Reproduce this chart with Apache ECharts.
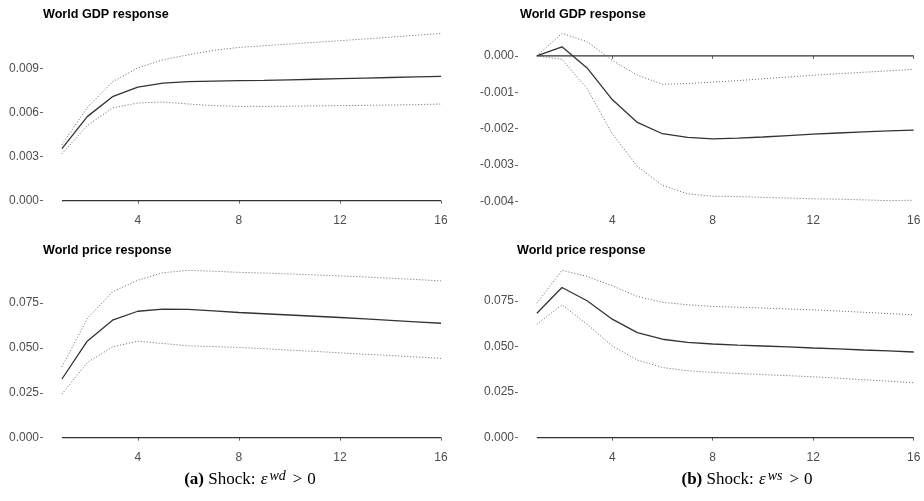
<!DOCTYPE html>
<html>
<head>
<meta charset="utf-8">
<script src="https://cdn.jsdelivr.net/npm/echarts@6/dist/echarts.min.js"></script>
<style>
    html, body { margin: 0; padding: 0; background: #fff; }
    #irf { width: 924px; height: 501px; }
</style>
</head>
<body>
<div id="irf"></div>
<script>
// 冲击后的期数
const horizon = [1, 2, 3, 4, 5, 6, 7, 8, 9, 10, 11, 12, 13, 14, 15, 16];

// (a) 需求冲击 -> 世界GDP
const gdpWdMid = [0.00355, 0.00573, 0.00709, 0.00775, 0.00802, 0.00812, 0.00815, 0.00818, 0.0082, 0.00824, 0.00828, 0.00832, 0.00836, 0.0084, 0.00844, 0.00848];
const gdpWdHigh = [0.00382, 0.00634, 0.00811, 0.00905, 0.00961, 0.00995, 0.01025, 0.01045, 0.01057, 0.01068, 0.0108, 0.01091, 0.01103, 0.01115, 0.01128, 0.01141];
const gdpWdLow = [0.0032, 0.00511, 0.00632, 0.00666, 0.00673, 0.00659, 0.00648, 0.00643, 0.00643, 0.00644, 0.00646, 0.00648, 0.0065, 0.00652, 0.00655, 0.00659];

// (b) 供给冲击 -> 世界GDP
const gdpWsMid = [0, 0.00025, -0.00033, -0.0012, -0.00183, -0.00214, -0.00224, -0.00228, -0.00226, -0.00223, -0.00219, -0.00215, -0.00212, -0.00209, -0.00206, -0.00204];
const gdpWsHigh = [0, 0.00062, 0.00039, -0.00012, -0.00053, -0.00078, -0.00076, -0.00072, -0.00068, -0.00063, -0.00058, -0.00053, -0.00049, -0.00045, -0.00041, -0.00037];
const gdpWsLow = [0, -0.00009, -0.0009, -0.00214, -0.00304, -0.00356, -0.00379, -0.00386, -0.00387, -0.00389, -0.00391, -0.00393, -0.00394, -0.00396, -0.00398, -0.00397];

// (a) 需求冲击 -> 世界价格
const priceWdMid = [0.0327, 0.0538, 0.0655, 0.0705, 0.0717, 0.0715, 0.0707, 0.0698, 0.0691, 0.0684, 0.0677, 0.067, 0.0662, 0.0654, 0.0646, 0.0638];
const priceWdHigh = [0.0395, 0.0664, 0.0813, 0.0878, 0.092, 0.0933, 0.0928, 0.0922, 0.0918, 0.0913, 0.0908, 0.0902, 0.0896, 0.0889, 0.0882, 0.0874];
const priceWdLow = [0.0243, 0.0419, 0.0506, 0.0538, 0.0525, 0.0512, 0.0508, 0.0503, 0.0496, 0.0488, 0.0481, 0.0473, 0.0465, 0.0458, 0.045, 0.0442];

// (b) 供给冲击 -> 世界价格
const priceWsMid = [0.0683, 0.0824, 0.0751, 0.065, 0.0576, 0.054, 0.0523, 0.0514, 0.0508, 0.0503, 0.0498, 0.0492, 0.0487, 0.0481, 0.0476, 0.047];
const priceWsHigh = [0.0738, 0.0918, 0.0885, 0.0833, 0.0775, 0.0743, 0.0729, 0.072, 0.0716, 0.0711, 0.0706, 0.0701, 0.0695, 0.0688, 0.0681, 0.0674];
const priceWsLow = [0.0622, 0.0729, 0.0622, 0.0503, 0.0426, 0.0385, 0.0367, 0.0358, 0.0352, 0.0346, 0.034, 0.0334, 0.0326, 0.0318, 0.031, 0.0301];

// 刻度
const xTicks = [4, 8, 12, 16];
const gdpWdTicks = [0, 0.003, 0.006, 0.009];
const gdpWsTicks = [-0.004, -0.003, -0.002, -0.001, 0];
const priceTicks = [0, 0.025, 0.05, 0.075];

const panelTitles = ['World GDP response', 'World GDP response', 'World price response', 'World price response'];

(function () {
    let me = {};
    me.chart = echarts.init(document.getElementById('irf'), null, { renderer: 'canvas' });

    let font = '"Liberation Sans", Arial, Helvetica, sans-serif';
    let serif = '"Liberation Serif", "Times New Roman", serif';

    // 面板: [mid, high, low, yTicks]
    let panels = [
        [gdpWdMid, gdpWdHigh, gdpWdLow, gdpWdTicks],
        [gdpWsMid, gdpWsHigh, gdpWsLow, gdpWsTicks],
        [priceWdMid, priceWdHigh, priceWdLow, priceTicks],
        [priceWsMid, priceWsHigh, priceWsLow, priceTicks]
    ];
    // 右侧面板在原图中被裁掉了一点
    let grids = [
        { left: 43, top: 25, width: 417, height: 184 },
        { left: 518, top: 25, width: 406, height: 184 },
        { left: 43, top: 262, width: 417, height: 184 },
        { left: 518, top: 262, width: 406, height: 184 }
    ];
    let xMaxOverride = [null, 16.41, null, 16.41];

    let toPairs = function (arr) {
        return horizon.map(function (h, i) { return [h, arr[i]]; });
    };
    // ggplot 风格的 5% 扩展
    let expand = function (lo, hi) {
        let d = (hi - lo) * 0.05;
        return [lo - d, hi + d];
    };

    let xAxis = [], yAxis = [], series = [];
    panels.forEach(function (p, k) {
        let all = p[0].concat(p[1], p[2], [0]);
        let yr = expand(Math.min.apply(null, all), Math.max.apply(null, all));
        let xr = expand(horizon[0], horizon[horizon.length - 1]);
        xAxis.push({
            type: 'value', gridIndex: k, min: xr[0], max: xMaxOverride[k] || xr[1],
            axisLine: { show: false },
            splitLine: { show: false },
            axisTick: { show: true, length: 3, customValues: xTicks, lineStyle: { color: '#666', width: 1 } },
            axisLabel: {
                customValues: xTicks, margin: 6,
                color: '#4d4d4d', fontSize: 12, fontFamily: font
            }
        });
        yAxis.push({
            type: 'value', gridIndex: k, min: yr[0], max: yr[1],
            axisLine: { show: false },
            splitLine: { show: false },
            axisTick: { show: true, length: 3, customValues: p[3], lineStyle: { color: '#666', width: 1 } },
            axisLabel: {
                customValues: p[3], margin: 4,
                color: '#4d4d4d', fontSize: 12, fontFamily: font,
                formatter: function (v) { return v.toFixed(3); }
            }
        });
        let base = { type: 'line', xAxisIndex: k, yAxisIndex: k, showSymbol: false, symbol: 'none', silent: true, animation: false };
        series.push(Object.assign({}, base, {
            data: toPairs(horizon.map(function () { return 0; })),
            lineStyle: { color: '#333', width: 1.2 }
        }));
        series.push(Object.assign({}, base, {
            data: toPairs(p[1]),
            lineStyle: { color: '#666', width: 1, type: [1, 2] }
        }));
        series.push(Object.assign({}, base, {
            data: toPairs(p[2]),
            lineStyle: { color: '#666', width: 1, type: [1, 2] }
        }));
        series.push(Object.assign({}, base, {
            data: toPairs(p[0]),
            lineStyle: { color: '#333', width: 1.3 }
        }));
    });

    let titlePos = [[43, 15], [520, 15], [43, 251], [517, 251]];
    let graphic = titlePos.map(function (pos, i) {
        return {
            type: 'text', x: pos[0], y: pos[1], silent: true,
            style: {
                text: panelTitles[i], fill: '#000', font: 'bold 12.6px ' + font,
                align: 'left', verticalAlign: 'middle'
            }
        };
    });

    let capRich = {
        b: { fontFamily: serif, fontWeight: 'bold', fontSize: 17, color: '#000', lineHeight: 22 },
        n: { fontFamily: serif, fontSize: 17, color: '#000', lineHeight: 22 },
        e: { fontFamily: serif, fontStyle: 'italic', fontSize: 17, color: '#000', lineHeight: 22, padding: [0, 0, 0, 1] },
        s: { fontFamily: serif, fontStyle: 'italic', fontSize: 14, color: '#000', lineHeight: 14, verticalAlign: 'top', padding: [0, 3, 0, 2] },
        m: { fontFamily: serif, fontSize: 17, color: '#000', lineHeight: 22, padding: [0, 5, 0, 4] }
    };
    graphic.push({
        type: 'text', x: 250, y: 480, silent: true,
        style: { text: '{b|(a)}{n| Shock: }{e|ε}{s|wd}{m|>}{n|0}', rich: capRich, align: 'center', verticalAlign: 'middle' }
    });
    graphic.push({
        type: 'text', x: 747, y: 480, silent: true,
        style: { text: '{b|(b)}{n| Shock: }{e|ε}{s|ws}{m|>}{n|0}', rich: capRich, align: 'center', verticalAlign: 'middle' }
    });

    let option = {
        backgroundColor: '#fff',
        animation: false,
        grid: grids,
        xAxis: xAxis,
        yAxis: yAxis,
        series: series,
        graphic: graphic
    };
    me.chart.setOption(option);
})();
</script>
</body>
</html>
